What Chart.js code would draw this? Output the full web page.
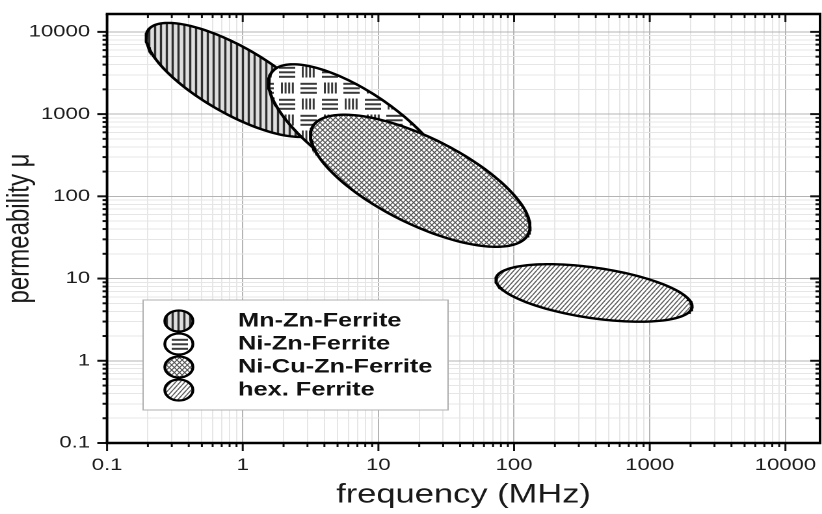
<!DOCTYPE html>
<html>
<head>
<meta charset="utf-8">
<title>Permeability of ferrites vs frequency</title>
<script src="https://cdn.jsdelivr.net/npm/chart.js@4.4.1/dist/chart.umd.min.js"></script>
<style>
  html, body { margin: 0; padding: 0; background: #fff; }
</style>
</head>
<body>
<!-- drawn 632 px wide and stretched to 822 px, like the original figure -->
<canvas id="chart" width="632" height="514" style="width:822px;height:514px"></canvas>
<script>
const materials = ['Mn-Zn-Ferrite', 'Ni-Zn-Ferrite', 'Ni-Cu-Zn-Ferrite', 'hex. Ferrite'];
// low and high frequency end of each region (MHz) and the permeability there
const lowFreq  = [0.194, 1.55, 3.16, 73.4];
const lowPerm  = [8600, 2400, 556, 9.7];
const highFreq = [3.8, 34, 131, 2050];
const highPerm = [790, 146, 43, 4.6];
// half thickness of each region at its middle, in decades of permeability
const spread = [0.46, 0.57, 0.58, 0.31];

const freqTicks = ['0.1', '1', '10', '100', '1000', '10000'];
const permTicks = ['0.1', '1', '10', '100', '1000', '10000'];

const FONT = '"Liberation Sans", Arial, sans-serif';

const isDecade = v => Math.abs(Math.log10(v) - Math.round(Math.log10(v))) < 1e-6;

// 1..9 x 10^n inside the axis range
const logTicks = (min, max) => {
  const out = [];
  for (let e = -1; e <= 4; e++) {
    for (let m = 1; m <= 9; m++) {
      const v = m * 10 ** e;
      if (v >= min * 0.999 && v <= max) out.push(v);
    }
  }
  return out;
};

// closed outline of a region, an ellipse in log-log space
const outline = i => {
  const x0 = Math.log10(lowFreq[i]), x1 = Math.log10(highFreq[i]);
  const y0 = Math.log10(lowPerm[i]), y1 = Math.log10(highPerm[i]);
  const cx = (x0 + x1) / 2, rx = (x1 - x0) / 2;
  const cy = (y0 + y1) / 2, ty = (y1 - y0) / 2;
  const pts = [];
  for (let k = 0; k <= 160; k++) {
    const t = 2 * Math.PI * k / 160;
    pts.push({ x: 10 ** (cx + rx * Math.cos(t)), y: 10 ** (cy + ty * Math.cos(t) + spread[i] * Math.sin(t)) });
  }
  return pts;
};

// hatch tiles, made at 2x so they map 1:1 on the 2x canvas
const makePattern = (w, h, draw) => {
  const c = document.createElement('canvas');
  c.width = w * 2;
  c.height = h * 2;
  const g = c.getContext('2d');
  g.scale(2, 2);
  draw(g, w, h);
  const p = g.createPattern(c, 'repeat');
  p.setTransform(new DOMMatrix().scale(0.5));
  return p;
};

const stripes = makePattern(4.5, 4, (g, w, h) => {
  g.fillStyle = '#dedede';
  g.fillRect(0, 0, w, h);
  g.fillStyle = '#2e2e2e';
  g.fillRect(1.4, 0, 1.7, h);
});

const blocks = makePattern(33, 32, (g, w, h) => {
  g.fillStyle = '#fff';
  g.fillRect(0, 0, w, h);
  g.fillStyle = '#3a3a3a';
  const vert = (x, y) => { for (let k = 0; k < 4; k++) g.fillRect(x + k * 2.8, y, 1.5, 11); };
  const horz = (x, y) => { for (let k = 0; k < 3; k++) g.fillRect(x, y + k * 4.5, 12.5, 2); };
  vert(1, 2.5);
  horz(16.5, 2.8);
  horz(0, 18.8);
  vert(18, 18.5);
});

const cross = makePattern(4, 5, (g, w, h) => {
  g.fillStyle = '#fff';
  g.fillRect(0, 0, w, h);
  g.strokeStyle = '#555';
  g.lineWidth = 0.9;
  g.beginPath();
  g.moveTo(0, 0); g.lineTo(w, h);
  g.moveTo(w, 0); g.lineTo(0, h);
  g.stroke();
});

const hatch = makePattern(3.5, 5, (g, w, h) => {
  g.fillStyle = '#fff';
  g.fillRect(0, 0, w, h);
  g.strokeStyle = '#5e5e5e';
  g.lineWidth = 1;
  g.beginPath();
  g.moveTo(0, h); g.lineTo(w, 0);
  g.moveTo(-w, h); g.lineTo(0, 0);
  g.moveTo(w, h); g.lineTo(2 * w, 0);
  g.stroke();
});

const fills = [stripes, blocks, cross, hatch];

const gridColor = c => (c.tick && isDecade(c.tick.value)) ? '#b4b4b4' : '#e6e6e6';

// frame, tick marks on all four sides and the boxed legend
const decorations = {
  id: 'decorations',
  beforeDatasetsDraw(chart) {
    const { ctx } = chart;
    const rows = [321, 344, 367, 390];
    ctx.save();
    ctx.fillStyle = '#fff';
    ctx.fillRect(110, 300, 234.5, 110);
    ctx.strokeStyle = '#b0b0b0';
    ctx.lineWidth = 1;
    ctx.strokeRect(110, 300, 234.5, 110);
    chart.data.datasets.forEach((ds, i) => {
      ctx.beginPath();
      ctx.ellipse(137.5, rows[i], 10.8, 10.5, 0, 0, 2 * Math.PI);
      ctx.fillStyle = ds.backgroundColor;
      ctx.fill();
      ctx.lineWidth = 2.2;
      ctx.strokeStyle = '#000';
      ctx.stroke();
      ctx.fillStyle = '#111';
      ctx.font = `bold 19.5px ${FONT}`;
      ctx.textBaseline = 'middle';
      ctx.fillText(ds.label, 183, rows[i]);
    });
    ctx.restore();
  },
  afterDraw(chart) {
    const { ctx, chartArea: a, scales: { x, y } } = chart;
    const line = (x0, y0, x1, y1) => { ctx.beginPath(); ctx.moveTo(x0, y0); ctx.lineTo(x1, y1); ctx.stroke(); };
    ctx.save();
    ctx.strokeStyle = '#111';
    ctx.lineWidth = 1.5;
    x.ticks.forEach(t => {
      const p = x.getPixelForValue(t.value);
      const len = isDecade(t.value) ? 8 : 4;
      line(p, a.bottom, p, a.bottom + len);
      line(p, a.top, p, a.top + len);
    });
    ctx.lineWidth = 2;
    y.ticks.forEach(t => {
      const p = y.getPixelForValue(t.value);
      const len = isDecade(t.value) ? 7.5 : 3.5;
      line(a.left - len, p, a.left, p);
      line(a.right - len, p, a.right, p);
    });
    ctx.strokeStyle = '#000';
    ctx.lineWidth = 2.5;
    line(a.left - 1, a.top, a.right + 1, a.top);
    line(a.left - 1, a.bottom, a.right + 1, a.bottom);
    ctx.lineWidth = 2;
    line(a.left, a.top, a.left, a.bottom);
    line(a.right, a.top, a.right, a.bottom);
    ctx.restore();
  }
};

new Chart(document.getElementById('chart'), {
  type: 'scatter',
  data: {
    datasets: materials.map((name, i) => ({
      label: name,
      data: outline(i),
      showLine: true,
      fill: 'shape',
      backgroundColor: fills[i],
      borderColor: '#000',
      borderWidth: 2.4,
      pointRadius: 0,
      pointHoverRadius: 0,
      order: materials.length - i
    }))
  },
  options: {
    responsive: false,
    devicePixelRatio: 2,
    animation: false,
    events: [],
    layout: { padding: { top: 14, right: 1.5, left: 0, bottom: 0 } },
    plugins: { legend: { display: false }, tooltip: { enabled: false } },
    scales: {
      x: {
        type: 'logarithmic',
        min: 0.1,
        max: 18000,
        afterBuildTicks: s => { s.ticks = logTicks(0.1, 18000).map(v => ({ value: v })); },
        afterFit: s => { s.height = 71; s.paddingLeft = 0; s.paddingRight = 0; },
        grid: { color: gridColor, lineWidth: 1, drawTicks: false },
        border: { display: false },
        ticks: {
          autoSkip: false, maxRotation: 0, minRotation: 0, padding: 12, color: '#1c1c1c',
          font: { family: FONT, size: 17 },
          callback: v => isDecade(v) ? freqTicks[Math.round(Math.log10(v)) + 1] : ''
        },
        title: {
          display: true, text: 'frequency (MHz)', color: '#1a1a1a',
          font: { family: FONT, size: 26.5 }, padding: { top: 0, bottom: 3 }
        }
      },
      y: {
        type: 'logarithmic',
        min: 0.1,
        max: 16500,
        afterBuildTicks: s => { s.ticks = logTicks(0.1, 16500).map(v => ({ value: v })); },
        afterFit: s => { s.width = 82.3; s.paddingTop = 0; s.paddingBottom = 0; },
        grid: { color: gridColor, lineWidth: 1, drawTicks: false },
        border: { display: false },
        ticks: {
          autoSkip: false, padding: 13, color: '#1c1c1c',
          font: { family: FONT, size: 17 },
          callback: v => isDecade(v) ? permTicks[Math.round(Math.log10(v)) + 1] : ''
        },
        title: {
          display: true, text: 'permeability μ', color: '#1a1a1a',
          font: { family: FONT, size: 24 }, padding: { top: 1, bottom: 0 }
        }
      }
    }
  },
  plugins: [decorations]
});
</script>
</body>
</html>
